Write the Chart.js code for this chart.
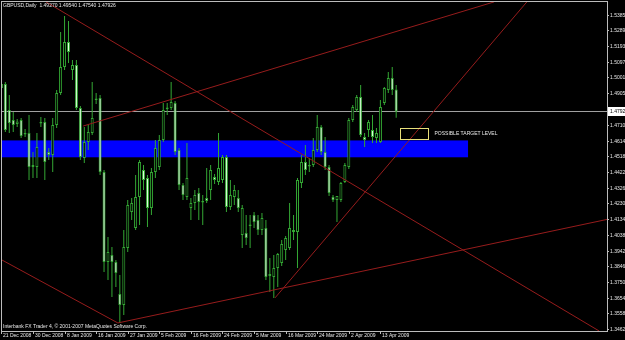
<!DOCTYPE html>
<html>
<head>
<meta charset="utf-8">
<title>GBPUSD Daily</title>
<script src="https://cdn.jsdelivr.net/npm/chart.js@4.4.1/dist/chart.umd.min.js"></script>
<style>
  html, body { margin: 0; padding: 0; background: #000; }
  #wrap { width: 625px; height: 340px; }
</style>
</head>
<body>
<div id="wrap"><canvas id="chartGbp" width="625" height="340"></canvas></div>
<script>
// GBPUSD daily bars, index 0 = 21 Dec 2008, last bar = 17 Apr 2009
const opens = [
  1.4936, 1.4960, 1.4801, 1.4740, 1.4715, 1.4740, 1.4660, 1.4660, 1.4465, 1.4453,
  1.4718, 1.4728, 1.4544, 1.4526, 1.4709, 1.4905, 1.5064, 1.5217, 1.5046, 1.5076,
  1.4813, 1.4508, 1.4605, 1.4660, 1.4862, 1.4874, 1.4422, 1.3872, 1.3914, 1.3872,
  1.3676, 1.3609, 1.3957, 1.4177, 1.4080, 1.4269, 1.4434, 1.4385, 1.4202, 1.4422,
  1.4453, 1.4618, 1.4807, 1.4813, 1.4844, 1.4556, 1.4342, 1.4269, 1.4202, 1.4232,
  1.4294, 1.4245, 1.4263, 1.4312, 1.4391, 1.4361, 1.4373, 1.4514, 1.4208, 1.4269,
  1.4263, 1.4037, 1.4049, 1.4092, 1.4159, 1.4128, 1.4067, 1.4080, 1.3798, 1.3780,
  1.3835, 1.3866, 1.3945, 1.3957, 1.4067, 1.4055, 1.4355, 1.4483, 1.4465, 1.4465,
  1.4556, 1.4697, 1.4544, 1.4453, 1.4269, 1.4251, 1.4251, 1.4361, 1.4453, 1.4740,
  1.4801, 1.4881, 1.4636, 1.4679, 1.4679, 1.4630, 1.4605, 1.4844, 1.4923, 1.4997,
  1.4927
];
const highs = [
  1.4984, 1.4972, 1.4893, 1.4789, 1.4746, 1.4752, 1.4685, 1.4770, 1.4544, 1.4660,
  1.4758, 1.4752, 1.4569, 1.4752, 1.4923, 1.5278, 1.5376, 1.5345, 1.5107, 1.5107,
  1.4826, 1.4697, 1.4709, 1.4972, 1.4905, 1.4893, 1.4434, 1.4025, 1.3963, 1.3884,
  1.3792, 1.4067, 1.4251, 1.4263, 1.4404, 1.4495, 1.4465, 1.4404, 1.4446, 1.4618,
  1.4648, 1.4844, 1.4844, 1.4972, 1.4856, 1.4569, 1.4355, 1.4599, 1.4263, 1.4312,
  1.4324, 1.4281, 1.4446, 1.4465, 1.4410, 1.4660, 1.4526, 1.4526, 1.4373, 1.4342,
  1.4312, 1.4220, 1.4159, 1.4159, 1.4177, 1.4159, 1.4171, 1.4128, 1.3896, 1.3914,
  1.3927, 1.4006, 1.4031, 1.4232, 1.4159, 1.4385, 1.4526, 1.4587, 1.4508, 1.4630,
  1.4770, 1.4709, 1.4636, 1.4465, 1.4281, 1.4269, 1.4361, 1.4477, 1.4752, 1.4832,
  1.4893, 1.4954, 1.4660, 1.4740, 1.4770, 1.4691, 1.4862, 1.4942, 1.5033, 1.5064,
  1.4954
];
const lows = [
  1.4893, 1.4667, 1.4660, 1.4667, 1.4697, 1.4630, 1.4636, 1.4373, 1.4385, 1.4385,
  1.4697, 1.4373, 1.4495, 1.4422, 1.4691, 1.4893, 1.5046, 1.5088, 1.4984, 1.4801,
  1.4495, 1.4477, 1.4556, 1.4648, 1.4838, 1.4404, 1.3811, 1.3762, 1.3658, 1.3719,
  1.3499, 1.3548, 1.3933, 1.4128, 1.4067, 1.4098, 1.4312, 1.4086, 1.4159, 1.4385,
  1.4434, 1.4605, 1.4770, 1.4801, 1.4526, 1.4312, 1.4251, 1.4251, 1.4128, 1.4190,
  1.4128, 1.4098, 1.4232, 1.4251, 1.4349, 1.4342, 1.4355, 1.4177, 1.4190, 1.4220,
  1.4177, 1.3957, 1.3976, 1.3957, 1.4080, 1.4037, 1.4037, 1.3762, 1.3688, 1.3652,
  1.3719, 1.3847, 1.3884, 1.3945, 1.4006, 1.3835, 1.4324, 1.4404, 1.4422, 1.4453,
  1.4544, 1.4526, 1.4434, 1.4275, 1.4239, 1.4116, 1.4239, 1.4355, 1.4440, 1.4728,
  1.4789, 1.4636, 1.4575, 1.4636, 1.4599, 1.4599, 1.4599, 1.4832, 1.4905, 1.4893,
  1.4754
];
const closes = [
  1.4960, 1.4679, 1.4722, 1.4709, 1.4731, 1.4642, 1.4651, 1.4453, 1.4453, 1.4575,
  1.4728, 1.4483, 1.4526, 1.4709, 1.4905, 1.5064, 1.5217, 1.5156, 1.5076, 1.4813,
  1.4514, 1.4605, 1.4667, 1.4752, 1.4871, 1.4422, 1.3872, 1.3933, 1.3872, 1.3804,
  1.3609, 1.3963, 1.4220, 1.4232, 1.4269, 1.4483, 1.4373, 1.4202, 1.4422, 1.4569,
  1.4618, 1.4801, 1.4816, 1.4850, 1.4544, 1.4342, 1.4281, 1.4385, 1.4232, 1.4281,
  1.4239, 1.4235, 1.4245, 1.4434, 1.4373, 1.4446, 1.4514, 1.4208, 1.4281, 1.4312,
  1.4202, 1.4202, 1.4018, 1.4101, 1.4116, 1.4067, 1.4141, 1.3780, 1.3786, 1.3835,
  1.3921, 1.3982, 1.4018, 1.4080, 1.4055, 1.4373, 1.4483, 1.4434, 1.4456, 1.4556,
  1.4697, 1.4544, 1.4453, 1.4294, 1.4251, 1.4275, 1.4355, 1.4465, 1.4740, 1.4819,
  1.4881, 1.4648, 1.4618, 1.4728, 1.4636, 1.4660, 1.4819, 1.4936, 1.4997, 1.4923,
  1.47926
];

// time axis: one label every 8 bars
const dateLabels = [
  '21 Dec 2008', '30 Dec 2008', '8 Jan 2009', '16 Jan 2009', '27 Jan 2009',
  '5 Feb 2009', '16 Feb 2009', '24 Feb 2009', '5 Mar 2009', '16 Mar 2009',
  '24 Mar 2009', '2 Apr 2009', '13 Apr 2009'
];
const BARS_PER_LABEL = 8;

// price axis labels
const priceTicks = [
  1.53850, 1.52890, 1.51930, 1.50970, 1.50010, 1.49050, 1.47100, 1.46140,
  1.45180, 1.44220, 1.43260, 1.42300, 1.41340, 1.40380, 1.39420, 1.38460,
  1.37500, 1.36540, 1.35580, 1.34620
];

const lastPrice = 1.47926;
const titleText = 'GBPUSD,Daily  1.49270 1.49540 1.47540 1.47926';
const copyrightText = 'Interbank FX Trader 4, \u00a9 2001-2007 MetaQuotes Software Corp.';

// blue support zone and the target box (bar index / price)
const zoneBars = [-0.1, 118.2];
const zonePrices = [1.4512, 1.4615];
const targetBars = [101.0, 108.0];
const targetPrices = [1.4624, 1.4691];
const targetLabel = 'POSSIBLE TARGET LEVEL';

// trendlines, each [bar, price] -> [bar, price]
const trendLines = [
  [[11.3, 1.5462], [151.4, 1.3450]],
  [[-0.1, 1.3887], [29.5, 1.3499]],
  [[29.5, 1.3499], [153.4, 1.4132]],
  [[20.7, 1.4703], [124.8, 1.5462]],
  [[69.3, 1.3652], [133.1, 1.5462]]
];

const COLORS = {
  bg: '#000000',
  frame: '#bcbcbc',
  text: '#e8e8e8',
  wick: '#34a834',
  bullBody: '#000000',
  bearBody: '#e0ffe0',
  trend: '#961c1c',
  zone: '#0000ff',
  target: '#e8e07a',
  bid: '#a0a0a0'
};
const FONT = '5px "Liberation Sans", Arial, sans-serif';

/* --- overlay: background, zone, frame, axis texts --- */
const mtOverlay = {
  id: 'mtOverlay',
  beforeDraw(chart) {
    const { ctx, width, height } = chart;
    ctx.save();
    ctx.fillStyle = COLORS.bg;
    ctx.fillRect(0, 0, width, height);
    ctx.restore();
  },
  beforeDatasetsDraw(chart) {
    const { ctx, chartArea: a, scales: { x, y } } = chart;
    ctx.save();
    const zx1 = Math.max(x.getPixelForValue(zoneBars[0]), a.left);
    const zx2 = x.getPixelForValue(zoneBars[1]);
    const zy1 = y.getPixelForValue(zonePrices[1]);
    const zy2 = y.getPixelForValue(zonePrices[0]);
    ctx.fillStyle = COLORS.zone;
    ctx.fillRect(zx1, zy1, zx2 - zx1, zy2 - zy1);

    // bid line
    const by = Math.round(y.getPixelForValue(lastPrice)) + 0.5;
    ctx.strokeStyle = COLORS.bid;
    ctx.lineWidth = 1;
    ctx.beginPath();
    ctx.moveTo(a.left, by);
    ctx.lineTo(a.right, by);
    ctx.stroke();
    ctx.restore();
  },
  afterDatasetsDraw(chart) {
    const { ctx, scales: { x, y } } = chart;
    ctx.save();
    const tx1 = Math.round(x.getPixelForValue(targetBars[0])) + 0.5;
    const tx2 = Math.round(x.getPixelForValue(targetBars[1])) + 0.5;
    const ty1 = Math.round(y.getPixelForValue(targetPrices[1])) + 0.5;
    const ty2 = Math.round(y.getPixelForValue(targetPrices[0])) + 0.5;
    ctx.strokeStyle = COLORS.target;
    ctx.lineWidth = 1;
    ctx.strokeRect(tx1, ty1, tx2 - tx1, ty2 - ty1);

    ctx.fillStyle = COLORS.text;
    ctx.font = FONT;
    ctx.textAlign = 'left';
    ctx.textBaseline = 'middle';
    ctx.fillText(targetLabel, tx2 + 6, (ty1 + ty2) / 2);
    ctx.restore();
  },
  afterDraw(chart) {
    const { ctx, chartArea: a, scales: { x, y }, width } = chart;
    ctx.save();
    ctx.strokeStyle = COLORS.frame;
    ctx.lineWidth = 1;
    ctx.strokeRect(a.left + 0.5, a.top - 0.5, a.right - a.left, a.bottom - a.top + 1);

    ctx.font = FONT;
    ctx.fillStyle = COLORS.text;
    ctx.textBaseline = 'middle';
    ctx.textAlign = 'left';

    // price scale
    priceTicks.forEach(v => {
      const py = Math.round(y.getPixelForValue(v)) + 0.5;
      ctx.beginPath();
      ctx.moveTo(a.right, py);
      ctx.lineTo(a.right + 2, py);
      ctx.stroke();
      ctx.fillText(v.toFixed(5), a.right + 3, py);
    });

    // time scale
    dateLabels.forEach((lbl, k) => {
      const px = Math.round(x.getPixelForValue(k * BARS_PER_LABEL)) + 0.5;
      ctx.beginPath();
      ctx.moveTo(px, a.bottom);
      ctx.lineTo(px, a.bottom + 3);
      ctx.stroke();
      ctx.fillText(lbl, px + 1.5, a.bottom + 5);
    });

    // current price tag
    const by = Math.round(y.getPixelForValue(lastPrice));
    ctx.fillStyle = '#ffffff';
    ctx.fillRect(a.right + 1, by - 4, width - a.right - 1, 9);
    ctx.fillStyle = '#000000';
    ctx.fillText(lastPrice.toFixed(5), a.right + 3, by + 0.5);

    // title and copyright
    ctx.fillStyle = COLORS.text;
    ctx.fillText(titleText, 3, 5.5);
    ctx.fillText(copyrightText, 3, a.bottom - 4);
    ctx.restore();
  }
};

/* --- datasets --- */
const wickData = opens.map((_, i) => ({ x: i, y: [lows[i], highs[i]] }));
const bodyData = opens.map((o, i) => ({ x: i, y: [o, closes[i]] }));
const bodyFill = opens.map((o, i) => closes[i] >= o ? COLORS.bullBody : COLORS.bearBody);

const lineSets = trendLines.map(([p1, p2]) => ({
  type: 'line',
  data: [{ x: p1[0], y: p1[1] }, { x: p2[0], y: p2[1] }],
  borderColor: COLORS.trend,
  borderWidth: 1,
  pointRadius: 0,
  tension: 0,
  order: 0
}));

new Chart(document.getElementById('chartGbp'), {
  type: 'bar',
  data: {
    datasets: [
      ...lineSets,
      {
        data: bodyData,
        backgroundColor: bodyFill,
        borderColor: COLORS.wick,
        borderWidth: 1,
        borderSkipped: false,
        barThickness: 3,
        inflateAmount: 0,
        grouped: false,
        order: 1
      },
      {
        data: wickData,
        backgroundColor: COLORS.wick,
        borderWidth: 0,
        barThickness: 1,
        inflateAmount: 0,
        grouped: false,
        order: 2
      }
    ]
  },
  options: {
    responsive: false,
    devicePixelRatio: 1,
    animation: false,
    layout: { padding: { left: 1, top: 2, right: 18, bottom: 9 } },
    plugins: { legend: { display: false }, tooltip: { enabled: false } },
    scales: {
      x: { type: 'linear', display: false, min: -0.1, max: 153.4, offset: false, bounds: 'data' },
      y: { type: 'linear', display: false, min: 1.34498, max: 1.54615, bounds: 'data', beginAtZero: false }
    }
  },
  plugins: [mtOverlay]
});
</script>
</body>
</html>
